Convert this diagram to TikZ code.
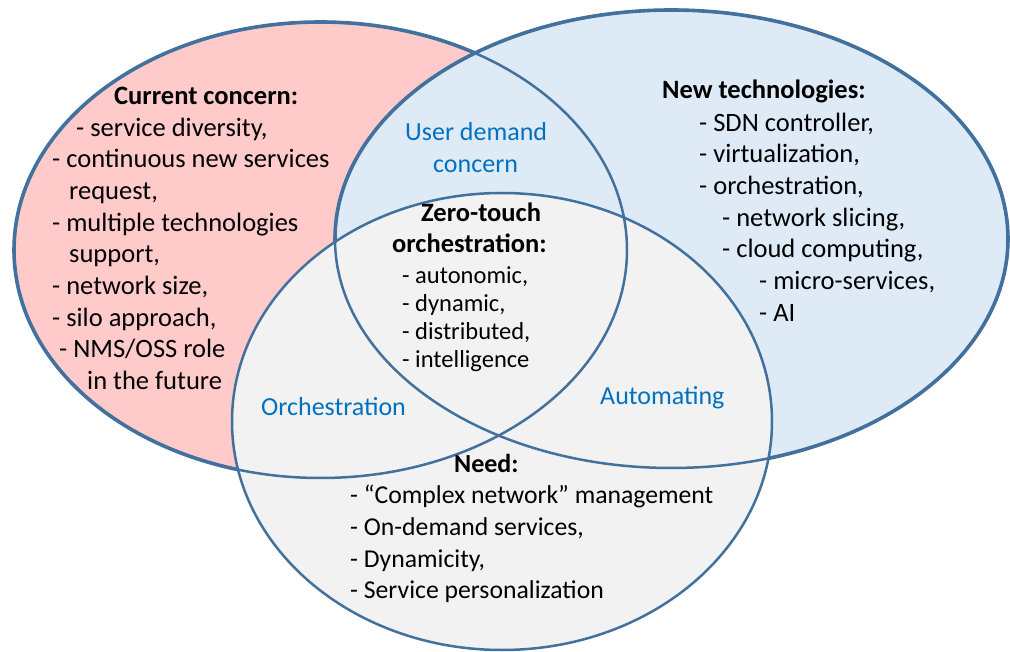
\documentclass[tikz,border=0pt]{standalone}
\usepackage{fontspec}
\setmainfont{Carlito}
\definecolor{redfill}{HTML}{FFCACA}
\definecolor{bluefill}{HTML}{DEEBF7}
\definecolor{grayfill}{HTML}{F2F2F2}
\definecolor{edge}{HTML}{41719C}
\definecolor{lbl}{HTML}{0070C0}
\tikzset{
  txt/.style={anchor=base west, inner sep=0pt, font=\fontsize{26.5}{31}\selectfont},
  btxt/.style={txt, font=\fontsize{26.5}{31}\selectfont\bfseries},
  ntxt/.style={txt, font=\fontsize{25.7}{31}\selectfont},
  nbtxt/.style={txt, font=\fontsize{26}{31}\selectfont\bfseries},
  stxt/.style={anchor=base west, inner sep=0pt, font=\fontsize{24.5}{28}\selectfont},
  sbtxt/.style={stxt, font=\fontsize{26.5}{28}\selectfont\bfseries},
  bluetxt/.style={anchor=base west, inner sep=0pt, font=\fontsize{26}{31}\selectfont, text=lbl},
  outer/.style={draw=edge, line width=3.6pt},
  inner/.style={draw=edge, line width=2.5pt},
}
\begin{document}
\begin{tikzpicture}[x=1pt,y=-1pt]
\useasboundingbox (0,0) rectangle (1010,652);
% fills and outlines
\fill[redfill] (320.5,250) ellipse [x radius=306.5, y radius=228];
\draw[outer] (320.5,250) ellipse [x radius=306.5, y radius=228];
\fill[bluefill] (671.5,239) ellipse [x radius=336.5, y radius=229];
\draw[outer] (671.5,239) ellipse [x radius=336.5, y radius=229];
\fill[grayfill] (502,421.5) ellipse [x radius=270, y radius=228.5];
\draw[inner] (320.5,250) ellipse [x radius=306.5, y radius=228];
\draw[inner] (671.5,239) ellipse [x radius=336.5, y radius=229];
\draw[inner] (502,421.5) ellipse [x radius=270, y radius=228.5];
% Current concern
\node[btxt] (cc0) at (114,105) {Current concern:};
\node[txt] (cc1) at (76,137) {- service diversity,};
\node[txt] (cc2) at (52,168) {- continuous new services};
\node[txt] (cc3) at (69,200) {request,};
\node[txt] (cc4) at (52,232) {- multiple technologies};
\node[txt] (cc5) at (69,263) {support,};
\node[txt] (cc6) at (52,295) {- network size,};
\node[txt] (cc7) at (52,327) {- silo approach,};
\node[txt] (cc8) at (59,358) {- NMS/OSS role};
\node[txt] (cc9) at (87,390) {in the future};
% New technologies
\node[btxt] (nt0) at (662,99) {New technologies:};
\node[txt] (nt1) at (699,132) {- SDN controller,};
\node[txt] (nt2) at (699,163) {- virtualization,};
\node[txt] (nt3) at (699,195) {- orchestration,};
\node[txt] (nt4) at (722,227) {- network slicing,};
\node[txt] (nt5) at (722,258) {- cloud computing,};
\node[txt] (nt6) at (759,290) {- micro-services,};
\node[txt] (nt7) at (759,322) {- AI};
% Zero-touch
\node[sbtxt] (zt0) at (421,222) {Zero-touch};
\node[sbtxt] (zt1) at (392,253) {orchestration:};
\node[stxt] (zt2) at (402,284) {- autonomic,};
\node[stxt] (zt3) at (402,312) {- dynamic,};
\node[stxt] (zt4) at (402,340) {- distributed,};
\node[stxt] (zt5) at (402,368) {- intelligence};
% blue labels
\node[bluetxt] (ud1) at (405,141) {User demand};
\node[bluetxt] (ud2) at (433,173) {concern};
\node[bluetxt] (orc) at (261,416) {Orchestration};
\node[bluetxt] (aut) at (600,405) {Automating};
% Need
\node[nbtxt] (nd0) at (454,472) {Need:};
\node[ntxt] (nd1) at (350,503) {- “Complex network” management};
\node[ntxt] (nd2) at (350,535) {- On-demand services,};
\node[ntxt] (nd3) at (350,567) {- Dynamicity,};
\node[ntxt] (nd4) at (350,598) {- Service personalization};
\end{tikzpicture}
\end{document}
